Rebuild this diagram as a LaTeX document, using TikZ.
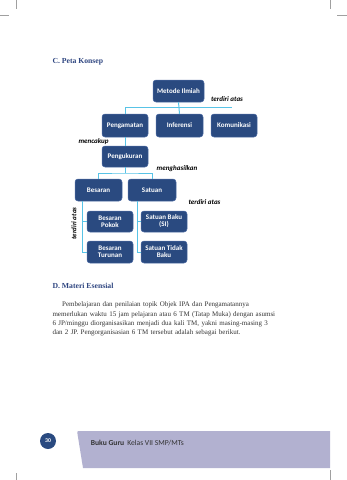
\documentclass[tikz,border=0pt]{standalone}
\usepackage{fontspec}
\setmainfont{Liberation Serif}
\newfontfamily\boxfont{Carlito}
\definecolor{boxblue}{HTML}{2A4A80}
\definecolor{boxedge}{HTML}{4D6BA3}
\definecolor{linecyan}{HTML}{58C3E6}
\definecolor{headblue}{HTML}{2E4580}
\definecolor{bodygray}{HTML}{333333}
\definecolor{bandlav}{HTML}{B2B1D0}
\definecolor{cropgray}{HTML}{A0A0A0}
\tikzset{
  cbox/.style={draw=boxedge, fill=boxblue, rounded corners=3pt, text=white,
    font=\boxfont\bfseries\fontsize{7}{8}\selectfont, align=center,
    inner sep=0pt, minimum height=22pt, minimum width=46pt, line width=0.5pt},
  conn/.style={draw=linecyan, line width=1pt},
  lbl/.style={font=\boxfont\bfseries\itshape\fontsize{7}{8}\selectfont, text=black, inner sep=0pt},
  head/.style={font=\bfseries\fontsize{7.7}{9}\selectfont, text=headblue, inner sep=0pt, anchor=base west},
  crop/.style={draw=cropgray, line width=0.6pt}
}
\begin{document}
\begin{tikzpicture}[x=1pt,y=-1pt]
\useasboundingbox (0,0) rectangle (347,480);
% crop marks
\draw[crop] (16.7,0) -- (16.7,9);
\draw[crop] (0,15.7) -- (9,15.7);
\draw[crop] (330,0) -- (330,9);
\draw[crop] (337,15.7) -- (347,15.7);
\draw[crop] (16.7,473) -- (16.7,480);
\draw[crop] (330,470) -- (330,480);

% heading
\node[head] (hc) at (52.3,63.6) {C. Peta Konsep};

% boxes
\node[cbox, minimum width=51pt] (metode) at (178.5,91) {Metode Ilmiah};
\node[cbox, minimum height=23pt] (pengamatan) at (125,125.5) {Pengamatan};
\node[cbox, minimum height=23pt, minimum width=47pt] (inferensi) at (179.5,125.5) {Inferensi};
\node[cbox, minimum height=23pt] (komunikasi) at (234,125.5) {Komunikasi};
\node[cbox, minimum height=21pt] (pengukuran) at (125,156.5) {Pengukuran};
\node[cbox, minimum width=47pt] (besaran) at (98.5,190) {Besaran};
\node[cbox, minimum width=48pt] (satuan) at (152,190) {Satuan};
\node[cbox, minimum height=21pt] (pokok) at (110,221.5) {Besaran\\[-1pt]Pokok};
\node[cbox] (turunan) at (110,252) {Besaran\\[-1pt]Turunan};
\node[cbox, minimum height=21pt] (baku) at (164,221.5) {Satuan Baku\\[-1pt](SI)};
\node[cbox] (tidakbaku) at (164,252) {Satuan Tidak\\[-1pt]Baku};

% connectors
\coordinate (busend) at (232,107);
\coordinate (bus2) at (125,173);
\draw[conn] (metode.south) -- (inferensi.north);
\draw[conn] (pengamatan.north) |- (busend);
\draw[conn] (pengamatan.south) -- (pengukuran.north);
\draw[conn] (pengukuran.south) -- (bus2);
\draw[conn] (besaran.north) |- (bus2) -| (satuan.north);
\draw[conn] ([xshift=-16.5pt]besaran.south) |- (pokok.west);
\draw[conn] ([xshift=-16.5pt]besaran.south) |- (turunan.west);
\draw[conn] ([xshift=-15pt]satuan.south) |- (baku.west);
\draw[conn] ([xshift=-15pt]satuan.south) |- (tidakbaku.west);

% labels
\node[lbl] (l1) at (227,99.5) {terdiri atas};
\node[lbl] (l2) at (93.5,141.5) {mencakup};
\node[lbl] (l3) at (177,168.5) {menghasilkan};
\node[lbl] (l4) at (204.5,202.5) {terdiri atas};
\node[lbl, rotate=90] (l5) at (74,223.5) {terdiri atas};

% section D
\node[head] (hd) at (52.3,288.6) {D. Materi Esensial};
\node[anchor=north west, inner sep=0pt, text width=234pt, text=bodygray,
      font=\fontsize{7}{9.3}\selectfont] (para) at (52.3,301.8)
{\tolerance=10000\hyphenpenalty=10000\exhyphenpenalty=10000\parindent=9.7pt\noindent\hspace*{9.7pt}Pembelajaran dan penilaian topik Objek IPA dan Pengamatannya\linebreak
memerlukan waktu 15 jam pelajaran atau 6 TM (Tatap Muka) dengan asumsi\linebreak
6 JP/minggu diorganisasikan menjadi dua kali TM, yakni masing-masing 3\linebreak
dan 2 JP. Pengorganisasian 6 TM tersebut adalah sebagai berikut.\par};

% footer
\fill[bandlav] (83,468) -- (77.6,434.6) .. controls (77,431) .. (80.5,431) -- (330,431) -- (330,468) -- cycle;
\node[circle, fill=boxblue, minimum size=16pt, inner sep=0pt, text=white,
      font=\boxfont\bfseries\fontsize{5.8}{6}\selectfont] (pg) at (48,441) {30};
\node[anchor=base west, inner sep=0pt, text=bodygray, font=\boxfont\fontsize{7.6}{8}\selectfont] (ft) at (90.7,445.5)
 {\textbf{Buku Guru}\hspace{3pt}Kelas VII SMP/MTs};
\end{tikzpicture}
\end{document}
